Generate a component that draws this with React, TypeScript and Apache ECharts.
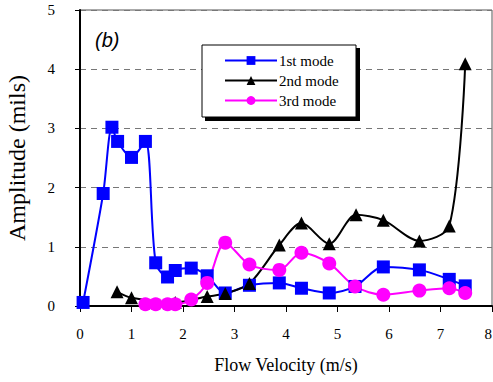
import React, { useEffect, useRef } from "react";
import * as echarts from "echarts";

const xTicks = [0, 1, 2, 3, 4, 5, 6, 7, 8];
const yTicks = [0, 1, 2, 3, 4, 5];

const mode1Velocity = [0.06, 0.45, 0.62, 0.73, 1.0, 1.27, 1.47, 1.7, 1.85, 2.16, 2.47, 2.82, 3.29, 3.87, 4.3, 4.84, 5.34, 5.89, 6.59, 7.17, 7.48];
const mode1Amplitude = [0.06, 1.9, 3.02, 2.78, 2.51, 2.78, 0.73, 0.49, 0.6, 0.64, 0.51, 0.22, 0.35, 0.39, 0.3, 0.22, 0.33, 0.66, 0.61, 0.45, 0.34];

const mode2Velocity = [0.72, 1.0, 1.85, 2.47, 2.82, 3.29, 3.87, 4.3, 4.84, 5.36, 5.89, 6.59, 7.17, 7.48];
const mode2Amplitude = [0.24, 0.14, 0.06, 0.16, 0.21, 0.38, 1.03, 1.4, 1.05, 1.54, 1.45, 1.1, 1.35, 4.09];

const mode3Velocity = [1.27, 1.47, 1.7, 1.85, 2.16, 2.47, 2.82, 3.29, 3.87, 4.3, 4.84, 5.34, 5.89, 6.59, 7.17, 7.48];
const mode3Amplitude = [0.03, 0.03, 0.03, 0.03, 0.11, 0.39, 1.07, 0.7, 0.61, 0.9, 0.72, 0.33, 0.19, 0.26, 0.3, 0.22];

const seriesNames = ["1st mode", "2nd mode", "3rd mode"];

const pairs = (xs: number[], ys: number[]) => xs.map((x, i) => [x, ys[i]]);

const SERIF = "'Liberation Serif', 'DejaVu Serif', serif";

export default function App() {
  const ref = useRef<HTMLDivElement>(null);
  useEffect(() => {
    const chart = echarts.init(ref.current!, null, { renderer: "svg" });
    chart.setOption({
      animation: false,
      backgroundColor: "#ffffff",
      grid: {
        left: 80,
        right: 1,
        top: 10,
        bottom: 76,
        show: true,
        borderColor: "#555555",
        borderWidth: 1,
        containLabel: false,
        outerBoundsMode: "none",
      },
      xAxis: {
        type: "value",
        min: xTicks[0],
        max: xTicks[xTicks.length - 1],
        interval: 1,
        name: "Flow Velocity (m/s)",
        nameLocation: "middle",
        nameGap: 50,
        nameTextStyle: { fontFamily: SERIF, fontSize: 18, color: "#000" },
        axisLine: { show: true, lineStyle: { color: "#000", width: 2 } },
        axisTick: { show: true, inside: false, length: 6, lineStyle: { color: "#000", width: 1 } },
        axisLabel: { margin: 20, fontFamily: SERIF, fontSize: 15, color: "#000", alignMaxLabel: "right" },
        splitLine: { show: false },
      },
      yAxis: {
        type: "value",
        min: yTicks[0],
        max: yTicks[yTicks.length - 1],
        interval: 1,
        name: "Amplitude (mils)",
        nameLocation: "middle",
        nameGap: 51,
        nameTextStyle: { fontFamily: SERIF, fontSize: 24, color: "#000" },
        axisLine: { show: true, lineStyle: { color: "#000", width: 2 } },
        axisTick: { show: true, inside: false, length: 5, lineStyle: { color: "#000", width: 1 } },
        axisLabel: { margin: 25, fontFamily: SERIF, fontSize: 15, color: "#000" },
        splitLine: { show: true, lineStyle: { color: "#777777", width: 1, type: [6, 5] } },
      },
      legend: {
        orient: "vertical",
        left: 219,
        top: 48,
        z: 10,
        itemWidth: 52,
        itemHeight: 11,
        itemGap: 5,
        textStyle: { fontFamily: SERIF, fontSize: 15, color: "#000", padding: [0, 0, 0, -3] },
        data: seriesNames,
      },
      graphic: {
        elements: [
          { type: "rect", z: 5, shape: { x: 205, y: 48, width: 155, height: 73 }, style: { fill: "#000" } },
          { type: "rect", z: 6, shape: { x: 202, y: 45, width: 154, height: 72 }, style: { fill: "#fff", stroke: "#000", lineWidth: 1 } },
          {
            type: "text",
            z: 6,
            left: 95,
            top: 30,
            style: { text: "(b)", font: "italic 20px 'Liberation Sans', Arial, sans-serif", fill: "#000" },
          },
        ],
      },
      series: [
        {
          name: seriesNames[0],
          type: "line",
          smooth: 0.3,
          data: pairs(mode1Velocity, mode1Amplitude),
          symbol: "rect",
          symbolSize: 13,
          lineStyle: { color: "#0000ff", width: 2 },
          itemStyle: { color: "#0000ff" },
        },
        {
          name: seriesNames[1],
          type: "line",
          smooth: 0.3,
          data: pairs(mode2Velocity, mode2Amplitude),
          symbol: "triangle",
          symbolSize: 13,
          lineStyle: { color: "#000000", width: 2 },
          itemStyle: { color: "#000000" },
        },
        {
          name: seriesNames[2],
          type: "line",
          smooth: 0.3,
          data: pairs(mode3Velocity, mode3Amplitude),
          symbol: "circle",
          symbolSize: 14,
          lineStyle: { color: "#ff00ff", width: 2 },
          itemStyle: { color: "#ff00ff" },
        },
      ],
    });
    return () => chart.dispose();
  }, []);
  return <div ref={ref} style={{ position: "absolute", left: 0, top: 0, width: 493, height: 382 }} />;
}
